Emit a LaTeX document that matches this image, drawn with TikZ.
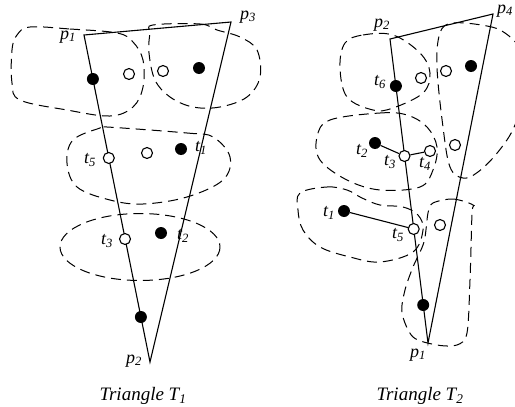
\documentclass[tikz,border=0pt]{standalone}
\usepackage{fontspec}
\setmainfont{Liberation Serif}
\newcommand\mylab[2]{{\itshape #1\textsubscript{#2}}}
\tikzset{
  fdot/.style={circle,fill=black,inner sep=0pt,minimum size=12pt},
  odot/.style={circle,draw=black,fill=white,line width=1.1pt,inner sep=0pt,minimum size=11pt},
  lab/.style={inner sep=0pt,font=\fontsize{18}{18}\selectfont},
  captext/.style={inner sep=0pt,font=\fontsize{19}{19}\selectfont\itshape},
  blob/.style={dash pattern=on 10pt off 6pt,line width=1pt},
  tri/.style={line width=1.1pt},
  link/.style={line width=1.1pt}
}
\begin{document}
\begin{tikzpicture}[x=1pt,y=-1pt]
\clip (0,0) rectangle (515,407);
\fill[white] (0,0) rectangle (515,407);
% ---- blobs T1
\draw[blob] plot[smooth cycle,tension=0.6] coordinates {(30,27) (70,29) (117,33) (133,42) (143,60) (143,87) (133,107) (110,116) (67,110) (20,100) (12,83) (12,50) (17,35)};
\draw[blob] plot[smooth cycle,tension=0.6] coordinates {(153,25) (200,24) (217,30) (240,37) (257,50) (260,77) (247,97) (220,107) (193,107) (170,97) (155,80) (149,53) (150,33)};
\draw[blob] plot[smooth cycle,tension=0.6] coordinates {(107,127) (187,133) (213,137) (230,157) (223,180) (187,197) (143,204) (110,200) (77,187) (67,163) (73,140) (100,128)};
\draw[blob] (140,247) ellipse[x radius=80,y radius=33.5];
% ---- blobs T2
\draw[blob] plot[smooth cycle,tension=0.6] coordinates {(345,43) (363,35) (393,35) (420,53) (430,73) (423,93) (393,108) (373,110) (347,97) (340,67)};
\draw[blob] plot[smooth cycle,tension=0.6] coordinates {(453,23) (487,26) (505,33) (520,50) (525,85) (515,125) (498,152) (478,172) (463,178) (450,167) (443,127) (437,67) (440,33)};
\draw[blob] plot[smooth cycle,tension=0.6] coordinates {(330,120) (380,113) (407,115) (427,127) (437,147) (433,170) (420,187) (380,190) (347,180) (320,160) (317,137)};
\draw[blob] plot[smooth cycle,tension=0.6] coordinates {(300,193) (327,187) (347,190) (362,198) (380,205) (403,207) (418,215) (423,230) (413,252) (380,262) (350,257) (320,247) (303,230) (298,210)};
\draw[blob] plot[smooth cycle,tension=0.5] coordinates {(433,203) (453,199) (473,205) (472,213) (470,280) (467,333) (457,345) (437,345) (413,337) (402,313) (405,290) (413,267) (424,242) (428,213)};
% ---- triangle T1
\coordinate (a1) at (84,35);
\coordinate (a3) at (231,22);
\coordinate (a2) at (150,362);
\draw[tri] (a1) -- (a3) -- (a2) -- cycle;
\node[lab] (la1) at (68,37) {\mylab{p}{1}};
\node[lab] (la3) at (248,17) {\mylab{p}{3}};
\node[lab] (la2) at (134,361) {\mylab{p}{2}};
\node[fdot] (u1) at (92.9,79) {};
\node[odot] (u2) at (129,74) {};
\node[odot] (u3) at (163,71) {};
\node[fdot] (u4) at (199,68) {};
\node[odot] (u5) at (108.8,158) {};
\node[lab] (lu5) at (90,160) {\mylab{t}{5}};
\node[odot] (u6) at (147,153) {};
\node[fdot] (u7) at (181,149) {};
\node[lab] (lu7) at (201,148) {\mylab{t}{1}};
\node[odot] (u8) at (125,239) {};
\node[lab] (lu8) at (107,241) {\mylab{t}{3}};
\node[fdot] (u9) at (161,233) {};
\node[lab] (lu9) at (183,236) {\mylab{t}{2}};
\node[fdot] (u10) at (140.9,317) {};
\node[captext] (c1) at (143,396) {Triangle T\textsubscript{1}};
% ---- triangle T2
\coordinate (b2) at (390,39);
\coordinate (b4) at (493,14);
\coordinate (b1) at (428,343);
\draw[tri] (b2) -- (b4) -- (b1) -- cycle;
\node[lab] (lb2) at (382,25) {\mylab{p}{2}};
\node[lab] (lb4) at (505,11) {\mylab{p}{4}};
\node[lab] (lb1) at (418,355) {\mylab{p}{1}};
\node[fdot] (v1) at (395.9,86) {};
\node[lab] (lv1) at (380,82) {\mylab{t}{6}};
\node[odot] (v2) at (421,78) {};
\node[odot] (v3) at (446,71) {};
\node[fdot] (v4) at (471,66) {};
\node[fdot] (v5) at (375,143) {};
\node[lab] (lv5) at (362,151) {\mylab{t}{2}};
\node[odot] (v6) at (404.5,156) {};
\node[lab] (lv6) at (390,162) {\mylab{t}{3}};
\node[odot] (v7) at (430,151) {};
\node[lab] (lv7) at (425,164) {\mylab{t}{4}};
\node[odot] (v8) at (455,145) {};
\node[fdot] (v9) at (344,211) {};
\node[lab] (lv9) at (329,213) {\mylab{t}{1}};
\node[odot] (v10) at (413.7,229) {};
\node[lab] (lv10) at (398,235) {\mylab{t}{5}};
\node[odot] (v11) at (440,225) {};
\node[fdot] (v12) at (423.2,305) {};
\draw[link] (v5) -- (v6);
\draw[link] (v6) -- (v7);
\draw[link] (v9) -- (v10);
\node[captext] (c2) at (420,396) {Triangle T\textsubscript{2}};
\end{tikzpicture}
\end{document}
